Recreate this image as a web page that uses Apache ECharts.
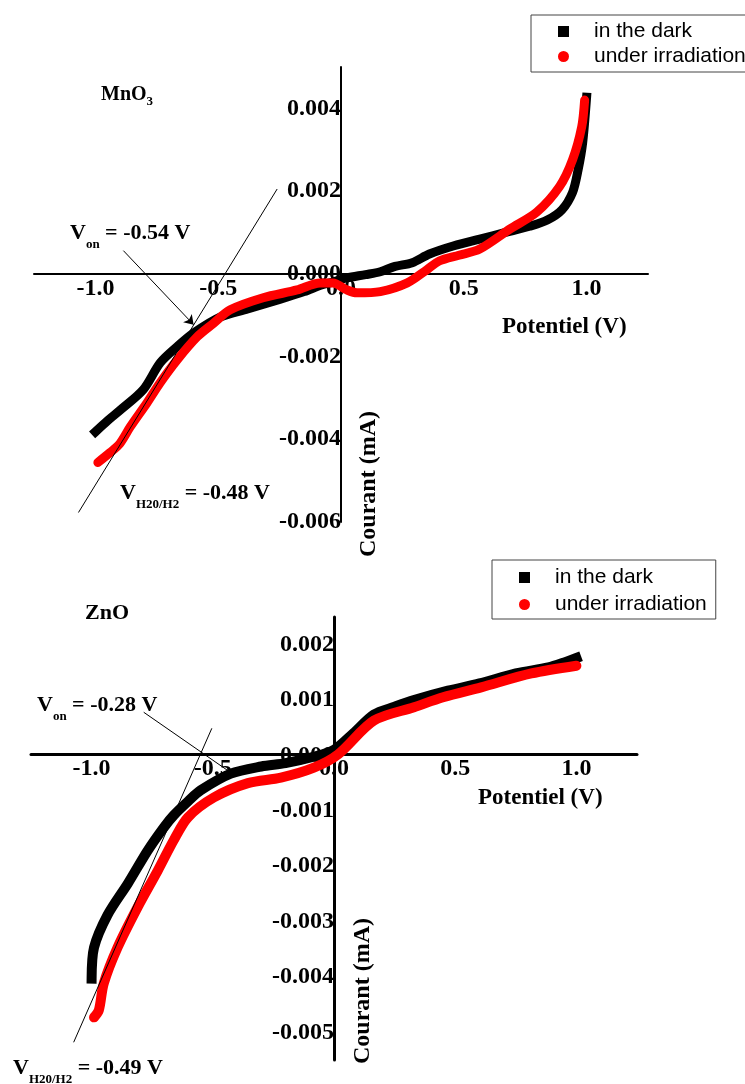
<!DOCTYPE html>
<html>
<head>
<meta charset="utf-8">
<script src="https://cdn.jsdelivr.net/npm/echarts@6/dist/echarts.min.js"></script>
<style>
  html, body { margin: 0; padding: 0; background: #fff; }
  #chart { width: 745px; height: 1084px; }
</style>
</head>
<body>
<div id="chart"></div>
<script>
// MnO3 (top panel) - potential (V) / current (mA)
const mnoDarkV = [-1.0, -0.95, -0.898, -0.805, -0.736, -0.667, -0.6, -0.49, -0.38, -0.25, -0.15, -0.08, -0.033, 0.024, 0.1, 0.16, 0.22, 0.29, 0.36, 0.46, 0.565, 0.67, 0.768, 0.84, 0.9, 0.943, 0.965, 0.984, 1.0]
const mnoDarkI = [-0.00382, -0.00355, -0.00329, -0.0028, -0.00215, -0.00176, -0.00143, -0.00104, -0.00085, -0.00062, -0.00043, -0.00027, -0.0002, -0.0001, -0.00002, 0.00005, 0.00018, 0.00027, 0.00048, 0.00068, 0.00084, 0.001, 0.00115, 0.0013, 0.00155, 0.00197, 0.0025, 0.00317, 0.00427]
const mnoLightV = [-0.99, -0.94, -0.9, -0.858, -0.79, -0.736, -0.667, -0.585, -0.52, -0.451, -0.317, -0.179, -0.085, -0.033, 0.024, 0.065, 0.16, 0.27, 0.35, 0.4, 0.48, 0.565, 0.687, 0.797, 0.89, 0.943, 0.98, 0.992]
const mnoLightI = [-0.00456, -0.00432, -0.0041, -0.0037, -0.00312, -0.00263, -0.00208, -0.00152, -0.0012, -0.00087, -0.00058, -0.00039, -0.00022, -0.00022, -0.00039, -0.00046, -0.00043, -0.00022, 0.0001, 0.00031, 0.00045, 0.0006, 0.00108, 0.00149, 0.00211, 0.00276, 0.00355, 0.0042]

// ZnO (bottom panel)
const znoDarkV = [-1.0, -0.99, -0.934, -0.85, -0.769, -0.702, -0.661, -0.6, -0.55, -0.426, -0.3, -0.2, -0.08, 0.0, 0.08, 0.165, 0.25, 0.33, 0.47, 0.6, 0.75, 0.884, 0.95, 1.0]
const znoDarkI = [-0.00403, -0.00347, -0.00288, -0.00231, -0.00172, -0.0013, -0.00108, -0.00082, -0.00063, -0.00033, -0.0002, -0.00014, -0.00002, 0.0001, 0.0004, 0.00074, 0.00088, 0.001, 0.00117, 0.0013, 0.00148, 0.00159, 0.00168, 0.00176]
const znoLightV = [-0.99, -0.97, -0.95, -0.893, -0.81, -0.727, -0.661, -0.603, -0.496, -0.355, -0.219, -0.083, 0.017, 0.165, 0.33, 0.45, 0.607, 0.814, 1.0]
const znoLightI = [-0.00473, -0.0046, -0.00412, -0.00347, -0.00274, -0.00208, -0.00153, -0.00112, -0.00076, -0.0005, -0.0004, -0.00022, 0.00002, 0.00063, 0.00087, 0.00105, 0.00123, 0.00148, 0.00162]

// tick labels
const xTicks = [-1.0, -0.5, 0.0, 0.5, 1.0]
const mnoTicks = [-0.006, -0.004, -0.002, 0.0, 0.002, 0.004]
const znoTicks = [-0.005, -0.004, -0.003, -0.002, -0.001, 0.0, 0.001, 0.002]

// construction lines (tangent and onset pointer), in data units
const mnoTangent = [[-0.26, 0.00205], [-1.069, -0.00577]]
const mnoOnset = [[-0.886, 0.00056], [-0.6, -0.00123]]
const znoTangent = [[-0.504, 0.00049], [-1.074, -0.00518]]
const znoOnset = [[-0.785, 0.00078], [-0.426, -0.00031]]

const serif = '"Liberation Serif", "Times New Roman", serif'
const sans = '"Liberation Sans", Arial, sans-serif'

const pairs = (xs, ys) => xs.map((x, i) => [x, ys[i]])

const chart = echarts.init(document.getElementById('chart'))

const tickLabel = {
  color: '#000',
  fontFamily: serif,
  fontWeight: 'bold',
  fontSize: 24
}

// axes cross at the origin: shift them inside the grid with offset
const makeXAxis = (gridIndex, width, offset) => ({
  type: 'value',
  gridIndex,
  min: -1.25,
  max: 1.25,
  position: 'bottom',
  offset,
  splitLine: { show: false },
  axisTick: { show: false },
  axisLine: { onZero: false, lineStyle: { color: '#000', width } },
  axisLabel: {
    ...tickLabel,
    margin: 3,
    customValues: xTicks,
    formatter: v => v.toFixed(1)
  }
})

const makeYAxis = (gridIndex, min, max, ticks, width, offset) => ({
  type: 'value',
  gridIndex,
  min,
  max,
  position: 'left',
  offset,
  splitLine: { show: false },
  axisTick: { show: false },
  axisLine: { onZero: false, lineStyle: { color: '#000', width } },
  axisLabel: {
    ...tickLabel,
    margin: 0,
    customValues: ticks,
    formatter: v => v.toFixed(3)
  }
})

const guideLines = (tangent, onset, arrow) => ({
  silent: true,
  symbol: 'none',
  symbolSize: 9,
  label: { show: false },
  lineStyle: { color: '#000', width: 1, type: 'solid' },
  data: [
    [{ coord: tangent[0] }, { coord: tangent[1] }],
    [{ coord: onset[0] }, { coord: onset[1], symbol: arrow ? 'arrow' : 'none' }]
  ]
})

const legendBase = {
  orient: 'vertical',
  borderColor: '#444',
  borderWidth: 1,
  itemWidth: 11,
  itemHeight: 11,
  textStyle: { color: '#000', fontFamily: sans, fontSize: 21, lineHeight: 20, padding: [0, 0, 0, 20] },
  data: [
    { name: 'in the dark', icon: 'rect' },
    { name: 'under irradiation', icon: 'circle' }
  ]
}

const sub = (size, offset) => ({
  fontFamily: serif, fontWeight: 'bold', fontSize: size, lineHeight: size,
  verticalAlign: 'top', padding: [offset, 0, 0, 0], fill: '#000'
})
const main = size => ({
  fontFamily: serif, fontWeight: 'bold', fontSize: size, lineHeight: size,
  verticalAlign: 'top', fill: '#000'
})

const richText = (left, top, text, size) => ({
  type: 'text',
  left,
  top,
  style: {
    text,
    rich: { m: main(size), s: sub(13, size === 20 ? 10 : 16) }
  }
})

const option = {
  animation: false,
  backgroundColor: '#fff',
  grid: [
    { left: 34, right: 97, top: 67, height: 455, outerBoundsMode: 'none', containLabel: false },
    { left: 31, right: 108, top: 617, height: 443, outerBoundsMode: 'none', containLabel: false }
  ],
  xAxis: [makeXAxis(0, 2, -248), makeXAxis(1, 3, -306)],
  yAxis: [
    makeYAxis(0, -0.006, 0.005, mnoTicks, 2, -307),
    makeYAxis(1, -0.0055, 0.0025, znoTicks, 3, -303)
  ],
  legend: [
    { ...legendBase, left: 531, top: 15, itemGap: 4, padding: [6, 12, 5, 27] },
    { ...legendBase, left: 492, top: 560, itemGap: 6, padding: [7, 9, 4, 27] }
  ],
  series: [
    {
      name: 'in the dark', type: 'line', xAxisIndex: 0, yAxisIndex: 0,
      data: pairs(mnoDarkV, mnoDarkI), showSymbol: false, smooth: 0.3,
      itemStyle: { color: '#000' },
      lineStyle: { color: '#000', width: 9, cap: 'square' }
    },
    {
      name: 'under irradiation', type: 'line', xAxisIndex: 0, yAxisIndex: 0,
      data: pairs(mnoLightV, mnoLightI), showSymbol: false, smooth: 0.3,
      itemStyle: { color: '#ff0000' },
      lineStyle: { color: '#ff0000', width: 9, cap: 'round' },
      markLine: guideLines(mnoTangent, mnoOnset, true)
    },
    {
      name: 'in the dark', type: 'line', xAxisIndex: 1, yAxisIndex: 1,
      data: pairs(znoDarkV, znoDarkI), showSymbol: false, smooth: 0.3,
      itemStyle: { color: '#000' },
      lineStyle: { color: '#000', width: 10, cap: 'square' }
    },
    {
      name: 'under irradiation', type: 'line', xAxisIndex: 1, yAxisIndex: 1,
      data: pairs(znoLightV, znoLightI), showSymbol: false, smooth: 0.3,
      itemStyle: { color: '#ff0000' },
      lineStyle: { color: '#ff0000', width: 10, cap: 'round' },
      markLine: guideLines(znoTangent, znoOnset, false)
    }
  ],
  graphic: [
    richText(101, 85, '{m|MnO}{s|3}', 20),
    richText(70, 222, '{m|V}{s|on}{m| = -0.54 V}', 22),
    richText(120, 482, '{m|V}{s|H20/H2}{m| = -0.48 V}', 22),
    richText(85, 602, '{m|ZnO}', 22),
    richText(37, 694, '{m|V}{s|on}{m| = -0.28 V}', 22),
    richText(13, 1057, '{m|V}{s|H20/H2}{m| = -0.49 V}', 22),
    {
      type: 'text', left: 502, top: 316,
      style: { text: 'Potentiel (V)', font: 'bold 23px ' + serif, fill: '#000' }
    },
    {
      type: 'text', left: 478, top: 787,
      style: { text: 'Potentiel (V)', font: 'bold 23px ' + serif, fill: '#000' }
    },
    {
      type: 'text', x: 369, y: 484, rotation: Math.PI / 2,
      style: { text: 'Courant (mA)', font: 'bold 24px ' + serif, fill: '#000', align: 'center', verticalAlign: 'middle' }
    },
    {
      type: 'text', x: 363, y: 991, rotation: Math.PI / 2,
      style: { text: 'Courant (mA)', font: 'bold 24px ' + serif, fill: '#000', align: 'center', verticalAlign: 'middle' }
    }
  ]
}

chart.setOption(option)
window.addEventListener('resize', () => chart.resize())
</script>
</body>
</html>
